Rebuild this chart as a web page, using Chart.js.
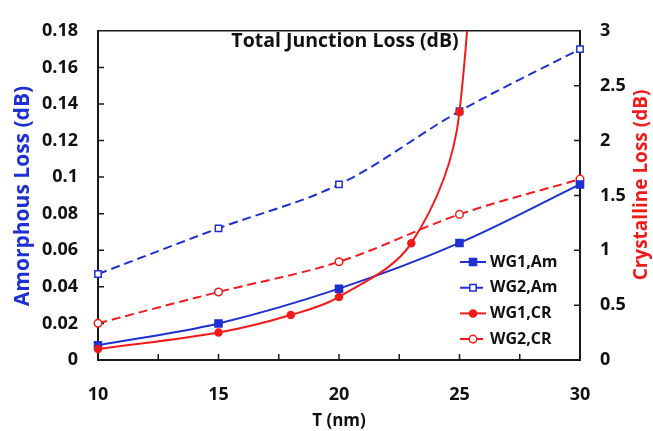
<!DOCTYPE html>
<html>
<head>
<meta charset="utf-8">
<script src="https://cdn.jsdelivr.net/npm/chart.js@4/dist/chart.umd.min.js"></script>
<style>
  html, body { margin: 0; padding: 0; background: #fff; }
  #wrap { width: 653px; height: 431px; }
</style>
</head>
<body>
<div id="wrap"><canvas id="lossChart"></canvas></div>
<script>
// thickness T (nm) and losses
const tValues = [10, 15, 20, 25, 30];
const wg1Am = [0.008, 0.020, 0.039, 0.064, 0.096];
const wg2Am = [0.047, 0.072, 0.096, 0.136, 0.170];
const wg1CrT = [10, 15, 18, 20, 23, 25, 26];
const wg1Cr = [0.10, 0.25, 0.41, 0.575, 1.065, 2.26, 7.0];
const wg2Cr = [0.335, 0.62, 0.895, 1.327, 1.648];
const seriesLabels = ['WG1,Am', 'WG2,Am', 'WG1,CR', 'WG2,CR'];

const blue = '#1f30d2';
const red = '#f21a1a';
const axisColor = '#1a1a1a';
const fontFamily = "'Open Sans', sans-serif";

const toPoints = (xs, ys) => xs.map((x, i) => ({ x, y: ys[i] }));
const trimNum = v => String(+v.toFixed(2));

const insideTicks = {
  id: 'insideTicks',
  beforeDatasetsDraw(chart) {
    const { ctx, chartArea: a, scales: { x, y, y1 } } = chart;
    ctx.save();
    ctx.strokeStyle = axisColor;
    ctx.lineWidth = 1.5;
    ctx.beginPath();
    ctx.moveTo(a.left, a.top);
    ctx.lineTo(a.right, a.top);
    for (let v = x.min; v <= x.max; v += 2.5) {
      const p = x.getPixelForValue(v);
      ctx.moveTo(p, a.bottom);
      ctx.lineTo(p, a.bottom - 6);
    }
    y.ticks.forEach(t => {
      const p = y.getPixelForValue(t.value);
      ctx.moveTo(a.left, p);
      ctx.lineTo(a.left + 6, p);
    });
    y1.ticks.forEach(t => {
      const p = y1.getPixelForValue(t.value);
      ctx.moveTo(a.right, p);
      ctx.lineTo(a.right - 6, p);
    });
    ctx.stroke();
    ctx.restore();
  }
};

const extraText = {
  id: 'extraText',
  afterDatasetsDraw(chart) {
    const { ctx } = chart;
    ctx.save();
    ctx.textAlign = 'center';
    ctx.textBaseline = 'middle';

    // title inside the plot
    ctx.fillStyle = '#111';
    ctx.font = 'bold 19.5px ' + fontFamily;
    ctx.fillText('Total Junction Loss (dB)', 345, 41);

    // both axis titles read bottom to top
    const sideTitle = (text, x, y, color, size) => {
      ctx.save();
      ctx.translate(x, y);
      ctx.rotate(-Math.PI / 2);
      ctx.fillStyle = color;
      ctx.font = 'bold ' + size + 'px ' + fontFamily;
      ctx.fillText(text, 0, 0);
      ctx.restore();
    };
    sideTitle('Amorphous Loss (dB)', 23, 196, blue, 21);
    sideTitle('Crystalline Loss (dB)', 642, 185, red, 19);

    // legend in Excel style: line sample with marker in the middle
    chart.data.datasets.forEach((ds, i) => {
      const rowY = 262 + i * 25.7;
      ctx.strokeStyle = ds.borderColor;
      ctx.lineWidth = 2;
      ctx.setLineDash(ds.borderDash || []);
      ctx.beginPath();
      ctx.moveTo(460, rowY);
      ctx.lineTo(486, rowY);
      ctx.stroke();
      ctx.setLineDash([]);
      ctx.fillStyle = ds.pointBackgroundColor;
      ctx.strokeStyle = ds.borderColor;
      ctx.lineWidth = 1.5;
      Chart.helpers.drawPoint(ctx, { pointStyle: ds.pointStyle, radius: ds.pointRadius, rotation: 0, borderWidth: 1.5 }, 473, rowY);
      ctx.fillStyle = '#111';
      ctx.font = 'bold 16px ' + fontFamily;
      ctx.textAlign = 'left';
      ctx.fillText(ds.label, 490, rowY);
    });
    ctx.restore();
  }
};

const lineStyle = (color, dashed, style, filled, r) => ({
  borderColor: color,
  borderWidth: 2,
  borderDash: dashed ? [9, 5] : [],
  pointStyle: style,
  pointRadius: r,
  pointBorderWidth: 1.5,
  pointBorderColor: color,
  pointBackgroundColor: filled ? color : '#fff',
  tension: 0.35,
  clip: { left: 8, right: 8, top: 0, bottom: 8 }
});

new Chart(document.getElementById('lossChart'), {
  type: 'line',
  data: {
    datasets: [
      { label: seriesLabels[0], data: toPoints(tValues, wg1Am), yAxisID: 'y', order: 1, ...lineStyle(blue, false, 'rect', true, 5) },
      { label: seriesLabels[1], data: toPoints(tValues, wg2Am), yAxisID: 'y', order: 2, ...lineStyle(blue, true, 'rect', false, 4.5) },
      { label: seriesLabels[2], data: toPoints(wg1CrT, wg1Cr), yAxisID: 'y1', order: 0, ...lineStyle(red, false, 'circle', true, 3.5) },
      { label: seriesLabels[3], data: toPoints(tValues, wg2Cr), yAxisID: 'y1', order: 3, ...lineStyle(red, true, 'circle', false, 3.8) }
    ]
  },
  options: {
    responsive: true,
    maintainAspectRatio: false,
    animation: false,
    layout: { padding: { top: 17, left: 0, right: 0, bottom: 0 } },
    plugins: { legend: { display: false }, tooltip: { enabled: false } },
    scales: {
      x: {
        type: 'linear', min: 10, max: 30,
        grid: { display: false, drawTicks: false },
        border: { display: true, color: axisColor, width: 2 },
        ticks: { stepSize: 5, padding: 24, color: '#111', font: { family: fontFamily, size: 18, weight: 'bold' } },
        title: { display: true, text: 'T (nm)', color: '#111', padding: { top: 0, bottom: 0 }, font: { family: fontFamily, size: 17, weight: 'bold' } },
        afterFit: s => { s.height = 71; }
      },
      y: {
        position: 'left', min: 0, max: 0.18,
        grid: { display: false, drawTicks: false },
        border: { display: true, color: axisColor, width: 2 },
        ticks: { stepSize: 0.02, padding: 20, color: '#111', font: { family: fontFamily, size: 18, weight: 'bold' }, callback: trimNum },
        afterFit: s => { s.width = 98; }
      },
      y1: {
        position: 'right', min: 0, max: 3,
        grid: { display: false, drawTicks: false },
        border: { display: true, color: axisColor, width: 2 },
        ticks: { stepSize: 0.5, padding: 20, color: '#111', font: { family: fontFamily, size: 18, weight: 'bold' }, callback: trimNum },
        afterFit: s => { s.width = 73; }
      }
    }
  },
  plugins: [insideTicks, extraText]
});
</script>
</body>
</html>
